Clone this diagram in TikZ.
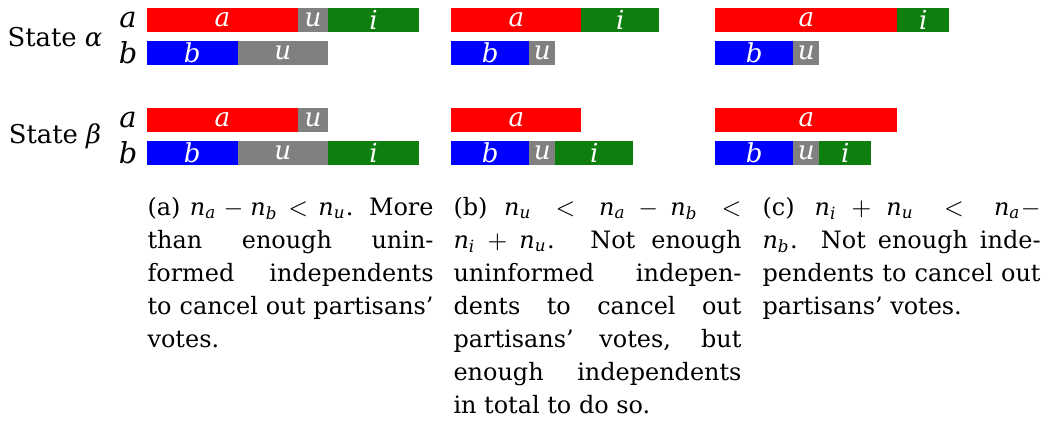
\documentclass[tikz,border=0pt]{standalone}
\usepackage{fontspec}
\setmainfont{DejaVu Serif}
\usepackage{amsmath}
\definecolor{vgreen}{RGB}{14,127,14}
\definecolor{vgray}{RGB}{128,128,128}
\definecolor{vred}{RGB}{255,0,0}
\definecolor{vblue}{RGB}{0,0,255}
\newcommand\vn[1]{\text{\itshape n}_{\text{\itshape #1}}}
\newcommand\mkseg[6]{% name, x, y, w, color, label
  \fill[#5] (#2,#3) rectangle ({#2+#4},{#3+24});
  \node[seglab] (#1) at ({#2+#4/2},{#3+12}) {#6};}
\begin{document}
\begin{tikzpicture}[x=0.3636pt,y=-0.3636pt,
  seglab/.style={text=white,inner sep=0pt,font=\fontsize{9.5}{10}\selectfont\itshape},
  rowlab/.style={inner sep=0pt,font=\fontsize{10.5}{10}\selectfont\itshape},
  statelab/.style={inner sep=0pt,font=\fontsize{9.4}{10}\selectfont},
  capbox/.style={anchor=north west,inner sep=0pt,align=justify,
     font=\fontsize{8.7}{12}\selectfont,
     execute at begin node={\emergencystretch=1em\relax}}]
\useasboundingbox (0,0) rectangle (1049,432);
% labels
\node[statelab] (sa) at (55,37) {State {\itshape α}};
\node[statelab] (sb) at (55,136) {State {\itshape β}};
\node[rowlab] (ra1) at (128,20) {a};
\node[rowlab] (rb1) at (128,53) {b};
\node[rowlab] (ra2) at (128,120) {a};
\node[rowlab] (rb2) at (128,153) {b};
% column 1
\mkseg{c1aa}{147}{8}{151}{vred}{a}
\mkseg{c1au}{298}{8}{30.2}{vgray}{u}
\mkseg{c1ai}{328.2}{8}{90.6}{vgreen}{i}
\mkseg{c1bb}{147}{41}{90.6}{vblue}{b}
\mkseg{c1bu}{237.6}{41}{90.6}{vgray}{u}
\mkseg{c1Aa}{147}{108}{151}{vred}{a}
\mkseg{c1Au}{298}{108}{30.2}{vgray}{u}
\mkseg{c1Bb}{147}{141}{90.6}{vblue}{b}
\mkseg{c1Bu}{237.6}{141}{90.6}{vgray}{u}
\mkseg{c1Bi}{328.2}{141}{90.6}{vgreen}{i}
% column 2
\mkseg{c2aa}{451.3}{8}{130}{vred}{a}
\mkseg{c2ai}{581.3}{8}{78}{vgreen}{i}
\mkseg{c2bb}{451.3}{41}{78}{vblue}{b}
\mkseg{c2bu}{529.3}{41}{26}{vgray}{u}
\mkseg{c2Aa}{451.3}{108}{130}{vred}{a}
\mkseg{c2Bb}{451.3}{141}{78}{vblue}{b}
\mkseg{c2Bu}{529.3}{141}{26}{vgray}{u}
\mkseg{c2Bi}{555.3}{141}{78}{vgreen}{i}
% column 3
\mkseg{c3aa}{715.3}{8}{182}{vred}{a}
\mkseg{c3ai}{897.3}{8}{52}{vgreen}{i}
\mkseg{c3bb}{715.3}{41}{78}{vblue}{b}
\mkseg{c3bu}{793.3}{41}{26}{vgray}{u}
\mkseg{c3Aa}{715.3}{108}{182}{vred}{a}
\mkseg{c3Bb}{715.3}{141}{78}{vblue}{b}
\mkseg{c3Bu}{793.3}{141}{26}{vgray}{u}
\mkseg{c3Bi}{819.3}{141}{52}{vgreen}{i}
% captions
\node[capbox,text width=104.0pt] (capa) at (147,197)
 {(a) $\vn{a} - \vn{b} < \vn{u}$. More\linebreak than enough unin-\linebreak formed independents\linebreak to cancel out partisans'\linebreak votes.};
\node[capbox,text width=104.7pt] (capb) at (453,197)
 {(b) $\vn{u} < \vn{a} - \vn{b} <$\linebreak $\vn{i} + \vn{u}$. Not enough\linebreak uninformed indepen-\linebreak dents to cancel out\linebreak partisans' votes, but\linebreak enough independents\linebreak in total to do so.};
\node[capbox,text width=101.1pt] (capc) at (762,197)
 {(c) $\vn{i} + \vn{u} < \vn{a} -$\linebreak $\vn{b}$. Not enough inde-\linebreak pendents to cancel out\linebreak partisans' votes.};
\end{tikzpicture}
\end{document}
